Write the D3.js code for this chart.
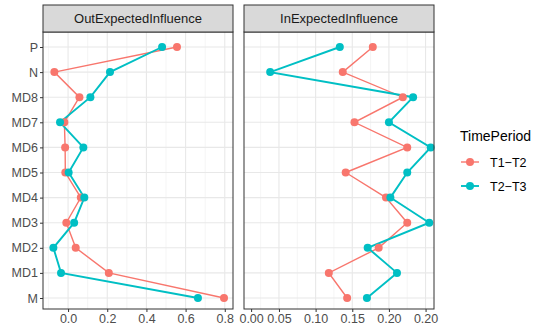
<!DOCTYPE html>
<html><head><meta charset="utf-8">
<script src="https://cdn.jsdelivr.net/npm/d3@7"></script>
<style>body{margin:0;background:#fff}svg{display:block;font-family:"Liberation Sans",Arial,sans-serif}</style>
</head><body>
<script>
const categories = ["M","MD1","MD2","MD3","MD4","MD5","MD6","MD7","MD8","N","P"];
const series = ["T1\u2212T2","T2\u2212T3"];
const colors = ["#F8766D","#00BFC4"];
// OutExpectedInfluence
const outT1T2 = [0.796,0.208,0.039,-0.009,0.065,-0.014,-0.015,-0.019,0.058,-0.07,0.556];
const outT2T3 = [0.663,-0.036,-0.075,0.031,0.083,0.003,0.078,-0.041,0.114,0.214,0.48];
// InExpectedInfluence
const inT1T2 = [0.143,0.118,0.186,0.225,0.196,0.141,0.225,0.153,0.219,0.137,0.178];
const inT2T3 = [0.170,0.211,0.171,0.255,0.202,0.225,0.257,0.200,0.233,0.038,0.133];
const outTicks = [0,0.2,0.4,0.6,0.8];
const outTickLabels = ["0.0","0.2","0.4","0.6","0.8"];
const inTicks = [0.012,0.05,0.10,0.15,0.20,0.25];
const inTickLabels = ["0.00","0.05","0.10","0.15","0.20","0.20"];

(function(){
const W=550,H=330;
const svg=d3.select("body").append("svg").attr("width",W).attr("height",H);
const pTop=32,pBottom=309,stripTop=5;
const y=d3.scalePoint().domain(categories).range([298,47]);

const panels=[
 {title:"OutExpectedInfluence",x0:43,x1:233,domain:[-0.128,0.842],ticks:outTicks,labels:outTickLabels,minor:[-0.1,0.1,0.3,0.5,0.7],data:[outT1T2,outT2T3],yaxis:true},
 {title:"InExpectedInfluence",x0:244,x1:434,domain:[0.0023,0.2615],ticks:inTicks,labels:inTickLabels,gridMajor:[0.05,0.10,0.15,0.20,0.25],minor:[0.025,0.075,0.125,0.175,0.225],data:[inT1T2,inT2T3],yaxis:false}
];

panels.forEach(p=>{
  const x=d3.scaleLinear().domain(p.domain).range([p.x0,p.x1]);
  const g=svg.append("g");
  g.append("rect").attr("x",p.x0).attr("y",pTop).attr("width",p.x1-p.x0).attr("height",pBottom-pTop).attr("fill","#fff");
  g.selectAll(".mn").data(p.minor).join("line").attr("x1",d=>x(d)).attr("x2",d=>x(d)).attr("y1",pTop).attr("y2",pBottom).attr("stroke","#F0F0F0").attr("stroke-width",0.7);
  const gm=p.gridMajor||p.ticks;
  g.selectAll(".mj").data(gm).join("line").attr("x1",d=>x(d)).attr("x2",d=>x(d)).attr("y1",pTop).attr("y2",pBottom).attr("stroke","#E8E8E8").attr("stroke-width",1.1);
  g.selectAll(".hy").data(categories).join("line").attr("x1",p.x0).attr("x2",p.x1).attr("y1",d=>y(d)).attr("y2",d=>y(d)).attr("stroke","#E8E8E8").attr("stroke-width",1.1);
  const line=d3.line().x(d=>x(d.v)).y(d=>y(d.c));
  p.data.forEach((vals,i)=>{
    const pts=categories.map((c,j)=>({c,v:vals[j]}));
    g.append("path").datum(pts).attr("d",line).attr("fill","none").attr("stroke",colors[i]).attr("stroke-width",i===0?1.4:1.9);
  });
  p.data.forEach((vals,i)=>{
    const pts=categories.map((c,j)=>({c,v:vals[j]}));
    g.selectAll(".pt"+i).data(pts).join("circle").attr("class","pt"+i).attr("cx",d=>x(d.v)).attr("cy",d=>y(d.c)).attr("r",4).attr("fill",colors[i]);
  });
  g.append("rect").attr("x",p.x0).attr("y",pTop).attr("width",p.x1-p.x0).attr("height",pBottom-pTop).attr("fill","none").attr("stroke","#333").attr("stroke-width",1);
  g.append("rect").attr("x",p.x0).attr("y",stripTop).attr("width",p.x1-p.x0).attr("height",pTop-stripTop).attr("fill","#D9D9D9").attr("stroke","#333").attr("stroke-width",1);
  g.append("text").attr("x",(p.x0+p.x1)/2).attr("y",(stripTop+pTop)/2+4.7).attr("text-anchor","middle").attr("font-size",13).attr("fill","#1A1A1A").text(p.title);
  const ax=d3.axisBottom(x).tickValues(p.ticks).tickSize(3).tickPadding(2).tickFormat((d,i)=>p.labels[i]);
  const axg=g.append("g").attr("transform",`translate(0,${pBottom})`).call(ax);
  axg.select(".domain").remove();
  axg.selectAll(".tick line").attr("stroke","#333");
  axg.selectAll("text").attr("font-size",12.5).attr("fill","#4D4D4D").attr("font-family","Liberation Sans, Arial, sans-serif");
  if(p.yaxis){
    const ay=d3.axisLeft(y).tickSize(3).tickPadding(2);
    const ayg=g.append("g").attr("transform",`translate(${p.x0},0)`).call(ay);
    ayg.select(".domain").remove();
    ayg.selectAll(".tick line").attr("stroke","#333");
    ayg.selectAll("text").attr("font-size",12.5).attr("fill","#4D4D4D").attr("font-family","Liberation Sans, Arial, sans-serif");
  }
});

const lg=svg.append("g");
lg.append("text").attr("x",460).attr("y",141).attr("font-size",14).attr("fill","#000").text("TimePeriod");
series.forEach((s,i)=>{
  const yy=[162,186][i];
  lg.append("line").attr("x1",461).attr("x2",479).attr("y1",yy).attr("y2",yy).attr("stroke",colors[i]).attr("stroke-width",i===0?1.4:1.9);
  lg.append("circle").attr("cx",470).attr("cy",yy).attr("r",4).attr("fill",colors[i]);
  lg.append("text").attr("x",490).attr("y",yy+4.5).attr("font-size",12.5).attr("fill","#000").text(s);
});
})();
</script>
</body></html>
